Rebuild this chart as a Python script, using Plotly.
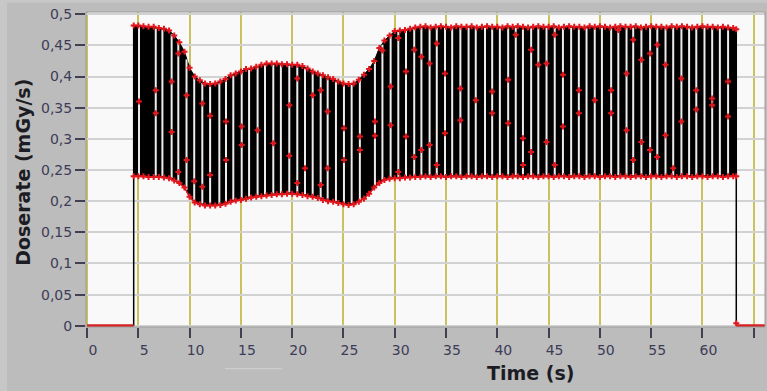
import numpy as np
import plotly.graph_objects as go

# ---------------- data ----------------
env_t = [4.55,
         5.0, 5.5, 6.0, 6.5, 7.0, 7.5, 8.0, 8.5, 9.0, 9.5,
         10.0, 10.5, 11.0, 11.5, 12.0, 12.5, 13.0, 13.5, 14.0, 14.5,
         15.0, 15.5, 16.0, 16.5, 17.0, 17.5, 18.0, 18.5, 19.0, 19.5,
         20.0, 20.5, 21.0, 21.5, 22.0, 22.5, 23.0, 23.5, 24.0, 24.5,
         25.0, 25.5, 26.0, 26.5, 27.0, 27.5, 28.0, 28.5, 29.0, 29.5,
         30.0, 30.5, 31.0, 31.5, 32.0, 32.5, 33.0, 33.5, 34.0, 34.5,
         35.0, 35.5, 36.0, 36.5, 37.0, 37.5, 38.0, 38.5, 39.0, 39.5,
         40.0, 40.5, 41.0, 41.5, 42.0, 42.5, 43.0, 43.5, 44.0, 44.5,
         45.0, 45.5, 46.0, 46.5, 47.0, 47.5, 48.0, 48.5, 49.0, 49.5,
         50.0, 50.5, 51.0, 51.5, 52.0, 52.5, 53.0, 53.5, 54.0, 54.5,
         55.0, 55.5, 56.0, 56.5, 57.0, 57.5, 58.0, 58.5, 59.0, 59.5,
         60.0, 60.5, 61.0, 61.5, 62.0, 62.5, 63.0,
         63.3]

upper_env = [0.482,
             0.482, 0.481, 0.480, 0.480, 0.478, 0.477, 0.474, 0.466, 0.455, 0.440,
             0.414, 0.400, 0.394, 0.389, 0.388, 0.389, 0.392, 0.396, 0.402, 0.405,
             0.408, 0.412, 0.413, 0.416, 0.419, 0.421, 0.421, 0.421, 0.420, 0.420,
             0.419, 0.419, 0.417, 0.413, 0.408, 0.405, 0.402, 0.399, 0.396, 0.392,
             0.389, 0.388, 0.389, 0.395, 0.403, 0.412, 0.425, 0.446, 0.458, 0.466,
             0.473, 0.474, 0.475, 0.477, 0.479, 0.480, 0.481, 0.479, 0.480, 0.481,
             0.480, 0.479, 0.481, 0.480, 0.480, 0.481, 0.479, 0.480, 0.481, 0.480,
             0.480, 0.479, 0.481, 0.480, 0.481, 0.480, 0.479, 0.480, 0.481, 0.480,
             0.480, 0.481, 0.479, 0.480, 0.481, 0.480, 0.480, 0.479, 0.481, 0.480,
             0.481, 0.480, 0.479, 0.480, 0.481, 0.480, 0.480, 0.481, 0.479, 0.480,
             0.481, 0.480, 0.480, 0.479, 0.481, 0.480, 0.481, 0.480, 0.479, 0.480,
             0.481, 0.480, 0.480, 0.479, 0.480, 0.479, 0.478,
             0.476]

lower_env = [0.240,
             0.240, 0.240, 0.239, 0.239, 0.239, 0.238, 0.237, 0.233, 0.229, 0.222,
             0.207, 0.198, 0.195, 0.193, 0.193, 0.193, 0.194, 0.196, 0.199, 0.201,
             0.202, 0.204, 0.206, 0.207, 0.208, 0.209, 0.210, 0.211, 0.211, 0.212,
             0.212, 0.211, 0.210, 0.208, 0.207, 0.205, 0.202, 0.200, 0.199, 0.197,
             0.195, 0.194, 0.195, 0.199, 0.204, 0.212, 0.222, 0.229, 0.234, 0.236,
             0.237, 0.237, 0.238, 0.238, 0.239, 0.239, 0.240, 0.239, 0.240, 0.240,
             0.239, 0.240, 0.240, 0.239, 0.240, 0.240, 0.239, 0.240, 0.240, 0.239,
             0.240, 0.240, 0.239, 0.240, 0.240, 0.239, 0.240, 0.240, 0.239, 0.240,
             0.240, 0.239, 0.240, 0.240, 0.239, 0.240, 0.240, 0.239, 0.240, 0.240,
             0.239, 0.240, 0.240, 0.239, 0.240, 0.240, 0.239, 0.240, 0.240, 0.239,
             0.240, 0.240, 0.239, 0.240, 0.240, 0.239, 0.240, 0.240, 0.239, 0.240,
             0.240, 0.239, 0.240, 0.240, 0.239, 0.240, 0.240,
             0.240]

# gaps (white stripes) in the pulse train and the red sample points sitting on them
stripe_t = [5.07, 6.70, 7.35, 8.25, 8.90, 9.70, 10.45, 11.24, 12.00, 12.90,
            13.55, 14.26, 15.08, 15.80, 16.63, 17.35, 18.16, 18.90, 19.72, 20.50,
            21.25, 22.00, 22.78, 23.46, 24.27, 25.05, 25.80, 26.60, 28.07, 28.80,
            29.60, 30.35, 31.10, 31.90, 32.60, 33.40, 34.10, 34.90, 35.60, 36.40,
            37.20, 37.90, 38.80, 39.50, 40.25, 41.06, 41.80, 42.50, 43.30, 44.00,
            44.80, 45.60, 46.40, 47.20, 47.95, 48.70, 49.50, 50.20, 51.10, 51.80,
            52.60, 53.25, 54.05, 54.90, 55.60, 56.40, 57.15, 57.95, 58.70, 59.40,
            60.20, 60.95, 61.70, 62.50]
stripe_mark_a = [0.360, 0.378, None, 0.392, 0.437, 0.370, 0.232, 0.357, 0.337, None,
                 0.328, None, 0.320, None, 0.314, None, 0.293, None, 0.354, 0.397,
                 0.253, 0.370, 0.378, 0.344, None, 0.317, None, 0.304, 0.328, 0.442,
                 0.384, 0.462, 0.408, 0.443, 0.432, 0.421, 0.453, 0.405, None, 0.381,
                 None, 0.362, None, 0.376, None, 0.395, 0.467, 0.301, 0.443, 0.419,
                 0.421, 0.467, 0.403, None, 0.378, None, 0.362, None, 0.378, 0.475,
                 0.405, 0.459, 0.427, 0.437, 0.451, 0.419, 0.253, 0.397, None, 0.378,
                 None, 0.365, None, 0.392]
stripe_mark_b = [None, 0.341, None, 0.311, 0.247, 0.266, None, 0.223, 0.242, None,
                 0.266, None, 0.290, None, None, None, None, None, 0.273, 0.229,
                 None, None, 0.226, 0.253, None, 0.266, None, 0.282, 0.305, None,
                 0.322, 0.247, 0.304, 0.271, 0.282, 0.290, 0.258, 0.309, None, 0.330,
                 None, None, None, 0.341, None, 0.325, None, 0.258, 0.279, None,
                 0.295, 0.258, 0.320, None, 0.341, None, None, None, 0.341, None,
                 0.314, 0.266, 0.295, 0.282, 0.271, 0.306, None, 0.328, None, 0.347,
                 None, 0.354, None, 0.336]

# flat zero signal before and after the irradiation
zero_before_t = [0.0, 4.55]
zero_after_t = [63.3, 66.2]

x_ticks = [0, 5, 10, 15, 20, 25, 30, 35, 40, 45, 50, 55, 60, 65]
x_tick_text = ["0", "5", "10", "15", "20", "25", "30", "35", "40", "45", "50", "55", "60", "65"]
y_ticks = [0, 0.05, 0.1, 0.15, 0.2, 0.25, 0.3, 0.35, 0.4, 0.45, 0.5]
y_tick_text = ["0", "0,05", "0,1", "0,15", "0,2", "0,25", "0,3", "0,35", "0,4", "0,45", "0,5"]

# ---------------- figure ----------------
RED = "#e3161c"
fig = go.Figure()

# solid black band of the fast pulse train
fig.add_trace(go.Scatter(
    x=env_t + env_t[::-1], y=upper_env + lower_env[::-1],
    fill="toself", fillcolor="black", mode="lines",
    line=dict(color="black", width=1), hoverinfo="skip", showlegend=False))

# rising / falling edges
fig.add_trace(go.Scatter(
    x=[zero_before_t[1], env_t[0]], y=[0, upper_env[0]],
    mode="lines", line=dict(color="black", width=1.5), showlegend=False))
fig.add_trace(go.Scatter(
    x=[env_t[-1], zero_after_t[0]], y=[upper_env[-1], 0],
    mode="lines", line=dict(color="black", width=1.5), showlegend=False))

# white gaps
tops = np.interp(stripe_t, env_t, upper_env)
bots = np.interp(stripe_t, env_t, lower_env)
sx, sy = [], []
for t, a, b in zip(stripe_t, tops, bots):
    sx += [t, t, None]
    sy += [a - 0.002, b + 0.002, None]
fig.add_trace(go.Scatter(x=sx, y=sy, mode="lines",
                         line=dict(color="#ececec", width=2), showlegend=False))

# red lower envelope line
fig.add_trace(go.Scatter(x=env_t, y=lower_env, mode="lines",
                         line=dict(color=RED, width=1.5), showlegend=False))

# red samples on envelopes
fig.add_trace(go.Scatter(
    x=env_t + env_t, y=upper_env + lower_env, mode="markers",
    marker=dict(symbol="cross", size=5, color=RED), showlegend=False))

# red samples sitting inside the gaps
mx, my = [], []
for t, a, b in zip(stripe_t, stripe_mark_a, stripe_mark_b):
    for v in (a, b):
        if v is not None:
            mx.append(t)
            my.append(v)
fig.add_trace(go.Scatter(x=mx, y=my, mode="markers",
                         marker=dict(symbol="cross", size=5, color=RED), showlegend=False))

# zero level (red)
for seg in (zero_before_t, zero_after_t):
    fig.add_trace(go.Scatter(x=seg, y=[0, 0], mode="lines",
                             line=dict(color="#d42222", width=3), showlegend=False))
fig.add_trace(go.Scatter(x=[zero_after_t[0]], y=[0.004], mode="markers",
                         marker=dict(symbol="cross", size=5, color=RED), showlegend=False))

tick_font = dict(family="DejaVu Sans", size=14, color="#3c3c58")

fig.update_layout(
    width=767, height=391,
    margin=dict(l=86, r=2, t=12, b=64),
    paper_bgcolor="#bcbcbc",
    plot_bgcolor="#f9f9f9",
    showlegend=False,
    xaxis=dict(
        range=[-0.1, 66.1], tickmode="array", tickvals=x_ticks, ticktext=x_tick_text,
        showgrid=True, gridcolor="#c9c25e", gridwidth=1.5, zeroline=False,
        ticks="outside", ticklen=10, tickwidth=1.5, tickcolor="#404050",
        tickfont=tick_font, ticklabelshift=6, showline=False, fixedrange=True),
    yaxis=dict(
        range=[-0.002, 0.5037], tickmode="array", tickvals=y_ticks, ticktext=y_tick_text,
        showgrid=True, gridcolor="#d2d2d2", gridwidth=1.5, zeroline=False,
        ticks="outside", ticklen=10, tickwidth=1.5, tickcolor="#404050",
        tickfont=tick_font, showline=False, fixedrange=True),
    annotations=[
        dict(text="<b>Time (s)</b>", xref="paper", yref="paper",
             x=0.654, y=-0.146, xanchor="center", yanchor="middle", showarrow=False,
             font=dict(family="DejaVu Sans", size=19, color="#1c1c24")),
        dict(text="<b>Doserate (mGy/s)</b>", xref="paper", yref="paper",
             x=-0.093, y=0.492, xanchor="center", yanchor="middle", showarrow=False,
             textangle=-90, font=dict(family="DejaVu Sans", size=19, color="#1c1c24")),
    ],
    shapes=[
        dict(type="rect", xref="paper", yref="paper", x0=0, x1=1, y0=0, y1=1,
             line=dict(color="#9c9c9c", width=1), layer="above"),
        dict(type="rect", xref="paper", yref="paper", x0=-0.1267, x1=-0.1164, y0=-0.21, y1=1.04,
             line=dict(width=0), fillcolor="#c7c7c7", layer="below"),
        dict(type="rect", xref="paper", yref="paper", x0=-0.1267, x1=1.003, y0=1.029, y1=1.04,
             line=dict(width=0), fillcolor="#c7c7c7", layer="below"),
        dict(type="line", xref="paper", yref="paper", x0=0.2047, x1=0.2887, y0=-0.1324, y1=-0.1324,
             line=dict(color="#d2d2d2", width=1)),
    ],
)

fig.write_html("out.html")
